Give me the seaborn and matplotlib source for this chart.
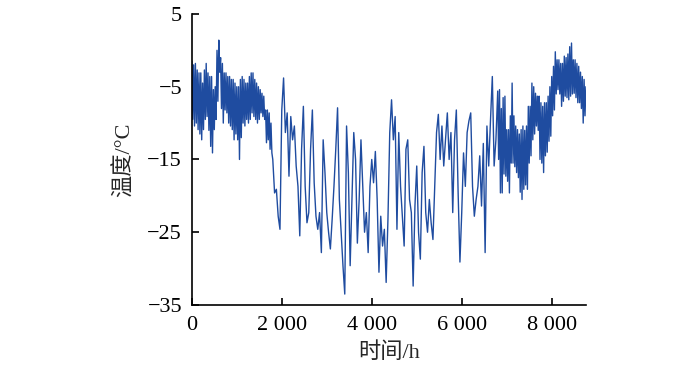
import numpy as np
import pandas as pd
import seaborn as sns
import matplotlib.pyplot as plt

# temperature
# early winter part, one value every 20 h (0 .. 1780 h)
temp_early = [
    -1.5, -9.5, -2.0, -10.4, -1.8, -10.0, -2.7, -10.9, -3.1, -11.5,
    -3.1, -12.3, -4.5, -10.9, -2.7, -9.5, -1.8, -9.1, -3.1, -11.0,
    -3.6, -13.2, -3.6, -14.1, -5.4, -10.9, -5.0, -9.5, 0.0, -7.0,
    1.4, -3.0, -1.0, -8.0, -1.8, -10.0, -3.1, -8.2, -3.1, -8.6,
    -3.6, -10.0, -3.6, -10.4, -4.0, -10.9, -4.0, -12.3, -4.5, -11.5,
    -5.0, -12.3, -5.0, -15.0, -4.0, -12.0, -3.6, -10.0, -4.0, -10.4,
    -4.5, -9.5, -4.5, -10.0, -3.6, -9.5, -3.1, -8.6, -3.1, -9.1,
    -4.0, -9.5, -4.5, -10.0, -5.0, -9.5, -5.4, -8.6, -5.9, -9.1,
    -6.3, -9.5, -8.2, -12.7, -8.2, -12.3, -8.6, -13.6, -10.0, -14.1,
]
# cold season, one value every 40 h (1800 .. 6760 h)
temp_mid = [
    -15.0, -19.6, -19.1, -22.8, -24.6,
    -8.2, -3.8, -11.3, -8.6, -17.3, -9.1, -12.3, -10.4, -15.9, -18.7,
    -25.5, -13.6, -7.7, -18.7, -23.7, -22.3, -13.6, -8.2, -18.2, -22.8,
    -24.6, -22.3, -27.8, -12.3, -16.8, -22.3, -25.0, -27.3, -23.2, -18.7,
    -13.6, -7.9, -20.5, -25.0, -29.6, -33.5, -10.4, -16.8, -29.6, -20.5,
    -11.3, -15.0, -26.5, -20.5, -12.3, -18.7, -25.0, -22.3, -27.8, -18.7,
    -15.0, -18.2, -13.9, -20.5, -30.5, -22.8, -26.9, -24.6, -31.9, -23.2,
    -11.3, -6.8, -12.3, -9.1, -24.6, -11.3, -18.7, -22.8, -26.9, -13.6,
    -12.3, -20.5, -22.3, -32.4, -21.4, -15.9, -25.0, -28.7, -16.8, -13.2,
    -22.3, -25.0, -20.5, -23.7, -26.0, -18.7, -11.3, -8.8, -15.0, -10.4,
    -15.9, -12.3, -8.6, -15.0, -11.3, -22.3, -12.3, -8.2, -19.6, -29.1,
    -22.3, -14.1, -18.7, -11.3, -9.7, -8.6, -18.7, -22.8, -20.5, -18.7,
    -14.5, -21.4, -12.8, -27.8, -10.4, -15.9, -9.5, -3.6, -15.9, -12.3,
]
# late part, one value every 20 h (6800 .. 8760 h)
temp_late = [
    -5.6, -15.0, -5.4, -19.6, -8.0, -19.6, -6.5, -17.0, -6.3, -17.3,
    -10.9, -18.0, -10.9, -19.6, -9.0, -15.5, -4.5, -15.5, -9.0, -16.0,
    -10.4, -16.8, -10.9, -17.5, -11.5, -19.5, -10.9, -20.5, -10.4, -19.1,
    -11.0, -18.5, -10.4, -19.1, -7.7, -15.5, -7.7, -14.5, -4.5, -12.3,
    -5.0, -11.5, -5.9, -10.4, -6.3, -11.0, -6.3, -15.0, -7.2, -15.5,
    -7.7, -16.8, -7.2, -14.5, -7.2, -14.0, -6.3, -12.5, -5.0, -11.8,
    -3.6, -9.0, -2.2, -8.2, -0.2, -6.0, -1.3, -5.4, -1.3, -6.0,
    -1.8, -7.7, -1.8, -7.0, -0.8, -6.3, -1.0, -6.5, -0.5, -6.8,
    0.5, -6.3, 1.0, -6.0, -1.3, -5.9, -1.3, -6.5, -1.8, -7.2,
    -2.2, -7.2, -3.0, -8.0, -3.6, -10.0, -4.0, -9.0, -5.0,
]
x_ticks = [0, 2000, 4000, 6000, 8000]
x_labels = ["0", "2 000", "4 000", "6 000", "8 000"]
y_ticks = [5, -5, -15, -25, -35]

hours = np.concatenate([
    np.arange(len(temp_early)) * 20,
    1800 + np.arange(len(temp_mid)) * 40,
    6800 + np.arange(len(temp_late)) * 20,
])
df = pd.DataFrame({"hour": hours, "temp": temp_early + temp_mid + temp_late})

sns.set_style("ticks")
plt.rcParams["font.family"] = ["Liberation Serif", "Noto Sans CJK SC"]
plt.rcParams["font.size"] = 16

fig = plt.figure(figsize=(7, 3.67), dpi=100)
ax = fig.add_axes([0.274, 0.169, 0.563, 0.793])
sns.lineplot(data=df, x="hour", y="temp", color="#1f4ca0", linewidth=1.0, ax=ax)

ax.set_xlim(0, 8760)
ax.set_ylim(-35, 5)
ax.set_xticks(x_ticks)
ax.set_xticklabels(x_labels)
ax.set_yticks(y_ticks)
ax.tick_params(direction="in", length=5, width=1.2, colors="black", labelsize=16)
ax.tick_params(axis="y", pad=7)
ax.tick_params(axis="x", pad=8)
for s in ["top", "right"]:
    ax.spines[s].set_visible(False)
for s in ["left", "bottom"]:
    ax.spines[s].set_linewidth(1.2)
    ax.spines[s].set_color("black")
ax.set_xlabel("时间/h", fontsize=16, labelpad=5)
ax.set_ylabel("温度/°C", fontsize=16, labelpad=9)

plt.savefig("out.png", dpi=100)
plt.close()
